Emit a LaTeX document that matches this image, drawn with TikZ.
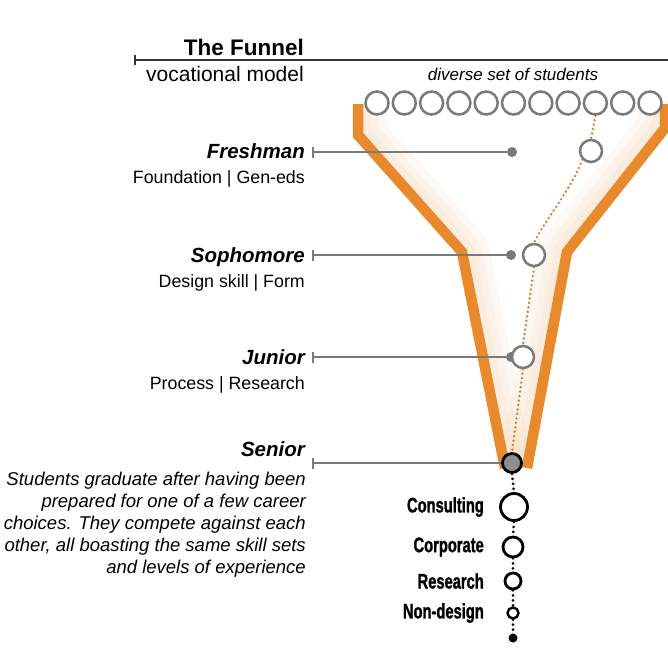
\documentclass[tikz,border=0pt]{standalone}
\usepackage{fontspec}
\setmainfont{Liberation Sans}
\newfontfamily\condfont[FakeStretch=0.7,FakeBold=1.2]{Liberation Sans}
\definecolor{funnelorange}{HTML}{E8892B}
\definecolor{guidegray}{HTML}{7A7A7A}
\begin{document}
\begin{tikzpicture}[x=1pt,y=-1pt,
  funnelline/.style={draw=funnelorange, line width=10.5pt, line join=miter},
  student/.style={circle, draw=guidegray, line width=2.5pt, fill=white, minimum size=23pt, inner sep=0pt},
  gdot/.style={circle, fill=guidegray, minimum size=10pt, inner sep=0pt},
  guide/.style={draw=guidegray, line width=2.4pt},
  tickline/.style={draw=guidegray, line width=1.2pt},
  titleline/.style={draw=black!80, line width=1.4pt},
  pathdots/.style={draw=funnelorange!90!black, line width=2.6pt, line cap=round, dash pattern=on 0pt off 4.5pt},
  careerdots/.style={draw=black, line width=3pt, line cap=round, dash pattern=on 0pt off 5pt},
  career circle/.style={circle, draw=black, line width=2.8pt, fill=white, inner sep=0pt},
  yearlabel/.style={font=\bfseries\itshape\fontsize{20.5}{24}\selectfont, anchor=base east, inner sep=0pt},
  yearnote/.style={font=\fontsize{17.8}{21}\selectfont, anchor=base east, inner sep=0pt},
  career/.style={font=\condfont\bfseries\fontsize{21}{24}\selectfont, anchor=east, inner sep=0pt}]

\useasboundingbox[fill=white] (0,0) rectangle (668,651);

% title
\node[font=\bfseries\fontsize{22.5}{26}\selectfont, anchor=base east, inner sep=0pt] (title) at (304,55) {The Funnel};
\node[font=\fontsize{21}{24}\selectfont, anchor=base east, inner sep=0pt] (subtitle) at (304,81) {vocational model};
\coordinate (ttick) at (135,60);
\coordinate (tend) at (668,60);
\draw[titleline] (ttick) -- (tend);
\draw[titleline] ([yshift=-5pt]ttick) -- ([yshift=5pt]ttick);

\node[font=\itshape\fontsize{17}{20}\selectfont, inner sep=0pt, anchor=base] (diverse) at (513,80) {diverse set of students};

% soft glow inside the funnel
\begin{scope}
  \clip (358,104) -- (358,135) -- (462,252) -- (505,468) -- (527,468) -- (567,252) -- (665,128) -- (665,104) -- cycle;
  \foreach \w in {56,40,26} {
    \draw[funnelorange, opacity=0.05, line width=\w pt, line join=round]
      (358,104) -- (358,135) -- (462,252) -- (505,468);
    \draw[funnelorange, opacity=0.05, line width=\w pt, line join=round]
      (665,104) -- (665,128) -- (567,252) -- (527,468);
  }
\end{scope}

% funnel walls
\draw[funnelline] (358,104) -- (358,135) -- (462,252) -- (505,468);
\draw[funnelline] (665,104) -- (665,128) -- (567,252) -- (527,468);

% incoming students
\foreach \i in {1,...,11} {
  \node[student] (s\i) at ({377+27.3*(\i-1)},103) {};
}

% year labels
\node[yearlabel] (fr) at (305,158) {Freshman};
\node[yearnote] (frnote) at (305,183) {Foundation | Gen-eds};
\node[yearlabel] (so) at (305,262) {Sophomore};
\node[yearnote] (sonote) at (305,287) {Design skill | Form};
\node[yearlabel] (ju) at (305,364) {Junior};
\node[yearnote] (junote) at (305,389) {Process | Research};
\node[yearlabel] (se) at (305,456) {Senior};
\node[font=\itshape\fontsize{18.5}{22}\selectfont, anchor=north east, align=right, inner sep=0pt] (senote) at (306,472)
  {Students graduate after having been\\prepared for one of a few career\\choices. They compete against each\\other, all boasting the same skill sets\\and levels of experience};

% guide lines
\coordinate (frtick) at (313,152);
\coordinate (sotick) at (313,255);
\coordinate (jutick) at (313,357);
\coordinate (setick) at (313,463);
\foreach \t in {frtick,sotick,jutick,setick} {
  \draw[tickline] ([yshift=-5.5pt]\t) -- ([yshift=5.5pt]\t);
}

\node[gdot] (frdot) at (512,152) {};
\node[gdot] (sodot) at (511,255) {};
\node[gdot] (judot) at (511,357) {};
\draw[guide] (frtick) -- (frdot);
\draw[guide] (sotick) -- (sodot);
\draw[guide] (jutick) -- (judot);

% the student's path
\node[student, minimum size=22pt] (frc) at (591,151) {};
\node[student, minimum size=22pt] (soc) at (534,255) {};
\node[student, minimum size=22pt] (juc) at (523,357) {};
\node[circle, draw=black, line width=2.8pt, fill=guidegray!85, minimum size=19pt, inner sep=0pt] (sec) at (512,463) {};
\draw[guide] (setick) -- (sec);

\draw[pathdots] (s9.south) -- (frc.north);
\draw[pathdots] (frc.south west) .. controls (572,188) and (545,220) .. (soc.north);
\draw[pathdots] (soc.south) -- (juc.north);
\draw[pathdots] (juc.south) -- (sec.north);

% career outcomes
\node[career circle, minimum size=27pt] (cons) at (514,507) {};
\node[career circle, minimum size=20pt] (corp) at (513,547) {};
\node[career circle, minimum size=16pt] (res) at (513,581) {};
\node[career circle, minimum size=11pt, line width=2.4pt] (nond) at (513,613) {};
\node[circle, fill=black, minimum size=9pt, inner sep=0pt] (last) at (513,638) {};

\draw[careerdots] (sec.south) -- (cons.north);
\draw[careerdots] (cons.south) -- (corp.north);
\draw[careerdots] (corp.south) -- (res.north);
\draw[careerdots] (res.south) -- (nond.north);
\draw[careerdots] (nond.south) -- (last.north);

\node[career] (consl) at (484,507) {Consulting};
\node[career] (corpl) at (484,547) {Corporate};
\node[career] (resl) at (484,581) {Research};
\node[career] (nondl) at (484,613) {Non-design};

\end{tikzpicture}
\end{document}
